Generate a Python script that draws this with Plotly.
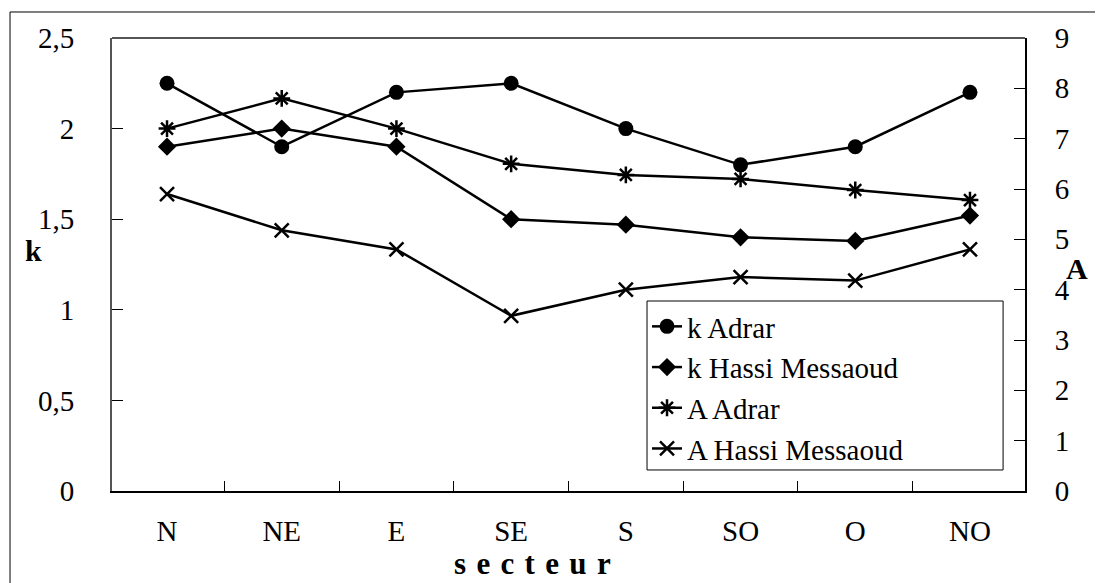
import plotly.graph_objects as go

secteurs = ['N', 'NE', 'E', 'SE', 'S', 'SO', 'O', 'NO']

k_adrar = [2.25, 1.9, 2.2, 2.25, 2.0, 1.8, 1.9, 2.2]
k_hassi = [1.9, 2.0, 1.9, 1.5, 1.47, 1.4, 1.38, 1.52]
a_adrar = [7.2, 7.8, 7.2, 6.5, 6.28, 6.2, 5.98, 5.78]
a_hassi = [5.9, 5.18, 4.8, 3.48, 4.0, 4.25, 4.18, 4.8]

FONT = 'Liberation Serif'
line = dict(color='black', width=2.5)

fig = go.Figure()
fig.add_trace(go.Scatter(x=secteurs, y=k_adrar, name='k Adrar', mode='lines+markers',
                         line=line, marker=dict(symbol='circle', size=15, color='black')))
fig.add_trace(go.Scatter(x=secteurs, y=k_hassi, name='k Hassi Messaoud', mode='lines+markers',
                         line=line, marker=dict(symbol='diamond', size=14, color='black')))
fig.add_trace(go.Scatter(x=secteurs, y=a_adrar, name='A Adrar', mode='lines+markers', yaxis='y2',
                         line=line, marker=dict(symbol='asterisk-open', size=14,
                                                line=dict(color='black', width=2.5))))
fig.add_trace(go.Scatter(x=secteurs, y=a_hassi, name='A Hassi Messaoud', mode='lines+markers', yaxis='y2',
                         line=line, marker=dict(symbol='x-thin-open', size=14,
                                                line=dict(color='black', width=2.5))))

# the page body has an 8px margin, so margins are shifted to keep the plot area in place
fig.update_layout(
    width=1103, height=583,
    margin=dict(l=104, r=86, t=30, b=100),
    paper_bgcolor='white', plot_bgcolor='white',
    font=dict(family=FONT, size=29, color='black'),
    separators=', ',
    xaxis=dict(type='category', ticks='inside', tickson='boundaries', ticklen=10,
               tickcolor='black', showline=True, linecolor='black', linewidth=2,
               mirror=False, showgrid=False, ticklabelstandoff=13),
    yaxis=dict(range=[0, 2.5], dtick=0.5, ticks='inside', ticklen=11, tickcolor='black',
               showline=True, linecolor='#555555', linewidth=2, showgrid=False,
               zeroline=False, ticklabelstandoff=30),
    yaxis2=dict(range=[0, 9], dtick=1, overlaying='y', side='right', ticks='inside',
                ticklen=11, tickcolor='black', showline=True, linecolor='black', linewidth=2,
                showgrid=False, zeroline=False, ticklabelstandoff=22),
    legend=dict(x=0.586, y=0.4194, xanchor='left', yanchor='top', borderwidth=0,
                bgcolor='rgba(0,0,0,0)', font=dict(family=FONT, size=29)),
    shapes=[
        dict(type='line', xref='paper', yref='paper', x0=0, x1=1, y0=1, y1=1,
             line=dict(color='#555555', width=2)),
        dict(type='rect', xref='paper', yref='paper', x0=-0.1117, x1=1.0832, y0=-0.3, y1=1.0574,
             line=dict(color='black', width=1)),
        # legend frame, wider than plotly's own legend box
        dict(type='rect', xref='paper', yref='paper', x0=0.586, x1=0.976, y0=0.0464, y1=0.4194,
             fillcolor='white', line=dict(color='black', width=1), layer='above'),
    ],
    annotations=[
        dict(text='<b>k</b>', xref='paper', yref='paper', x=-0.098, y=0.532, showarrow=False,
             font=dict(family=FONT, size=30)),
        dict(text='<b>A</b>', xref='paper', yref='paper', x=1.071, y=0.492, showarrow=False,
             font=dict(family=FONT, size=30)),
        dict(text='<b>' + '\u00a0\u200a'.join('secteur') + '</b>', xref='paper', yref='paper',
             x=0.461, y=-0.16, showarrow=False, yanchor='middle',
             font=dict(family=FONT, size=31)),
    ],
)

fig.write_html('out.html')
